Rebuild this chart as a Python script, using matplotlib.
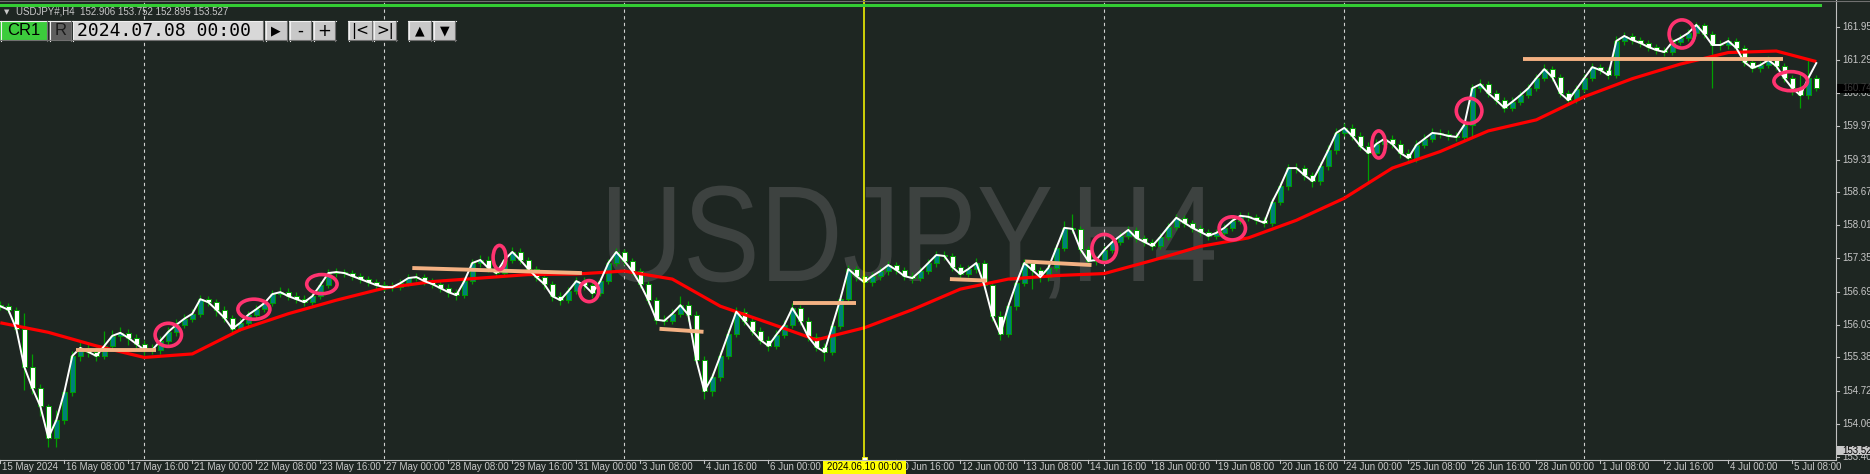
import matplotlib
matplotlib.use("Agg")
import matplotlib.pyplot as plt
from matplotlib.patches import Rectangle, Ellipse, PathPatch
from matplotlib.transforms import blended_transform_factory as btf, Affine2D
from matplotlib.textpath import TextPath
from matplotlib.font_manager import FontProperties

# ---------------- data ----------------
closes = [156.40,156.33,155.95,155.19,154.77,154.41,153.78,154.13,154.69,155.41,
155.57,155.49,155.41,155.61,155.81,155.87,155.77,155.65,155.53,155.53,
155.71,155.89,156.03,156.15,156.25,156.54,156.48,156.33,156.17,155.95,
156.07,156.23,156.34,156.46,156.64,156.68,156.60,156.54,156.48,156.60,
156.82,157.06,157.08,157.06,157.00,156.94,156.88,156.82,156.78,156.78,
156.86,156.96,156.98,156.90,156.84,156.76,156.68,156.62,156.90,157.26,
157.32,157.16,157.06,157.32,157.48,157.32,157.14,156.98,156.84,156.60,
156.52,156.70,156.90,156.82,156.66,156.90,157.26,157.48,157.30,157.10,
156.84,156.52,156.13,156.11,156.25,156.42,156.23,155.33,154.71,154.99,
155.41,155.85,156.29,156.11,155.91,155.73,155.61,155.83,156.03,156.36,
156.11,155.79,155.59,155.49,156.01,156.54,157.14,157.00,156.88,157.00,
157.10,157.22,157.12,157.00,156.96,157.10,157.26,157.42,157.40,157.18,
157.04,157.14,157.26,156.82,156.21,155.85,156.40,156.86,157.26,157.12,
156.98,157.16,157.56,157.96,157.94,157.54,157.30,157.32,157.52,157.68,
157.80,157.92,157.76,157.68,157.60,157.78,157.98,158.16,158.06,157.96,
157.88,157.80,157.86,157.96,158.10,158.20,158.18,158.12,158.06,158.48,
158.79,159.15,159.15,159.01,158.89,159.19,159.51,159.85,159.95,159.79,
159.59,159.45,159.63,159.73,159.63,159.45,159.35,159.61,159.73,159.85,
159.83,159.79,159.77,160.01,160.74,160.82,160.64,160.50,160.35,160.47,
160.60,160.74,160.94,161.12,160.96,160.64,160.50,160.72,160.94,161.16,
161.10,161.00,161.68,161.78,161.70,161.64,161.56,161.50,161.46,161.66,
161.74,161.84,162.00,161.82,161.60,161.60,161.68,161.54,161.26,161.14,
161.20,161.30,161.18,160.94,160.74,160.60,160.94,160.74]

opens = [156.42,156.40,156.33,155.95,155.19,154.77,154.41,153.78,154.13,154.69,
155.41,155.57,155.49,155.41,155.61,155.81,155.87,155.77,155.65,155.53,
155.53,155.71,155.89,156.03,156.15,156.25,156.54,156.48,156.33,156.17,
155.95,156.07,156.23,156.34,156.46,156.64,156.68,156.60,156.54,156.48,
156.60,156.82,157.06,157.08,157.06,157.00,156.94,156.88,156.82,156.78,
156.78,156.86,156.96,156.98,156.90,156.84,156.76,156.68,156.62,156.90,
157.26,157.32,157.16,157.06,157.32,157.48,157.32,157.14,156.98,156.84,
156.60,156.52,156.70,156.90,156.82,156.66,156.90,157.26,157.48,157.30,
157.10,156.84,156.52,156.13,156.11,156.25,156.42,156.23,155.33,154.71,
154.99,155.41,155.85,156.29,156.11,155.91,155.73,155.61,155.83,156.03,
156.36,156.11,155.79,155.59,155.49,156.01,156.54,157.14,157.00,156.88,
157.00,157.10,157.22,157.12,157.00,156.96,157.10,157.26,157.42,157.40,
157.18,157.04,157.14,157.26,156.82,156.21,155.85,156.40,156.86,157.26,
157.12,156.98,157.16,157.56,157.96,157.94,157.54,157.30,157.32,157.52,
157.68,157.80,157.92,157.76,157.68,157.60,157.78,157.98,158.16,158.06,
157.96,157.88,157.80,157.86,157.96,158.10,158.20,158.18,158.12,158.06,
158.48,158.79,159.15,159.15,159.01,158.89,159.19,159.51,159.85,159.95,
159.79,159.59,159.45,159.63,159.73,159.63,159.45,159.35,159.61,159.73,
159.85,159.83,159.79,159.77,160.01,160.74,160.82,160.64,160.50,160.35,
160.47,160.60,160.74,160.94,161.12,160.96,160.64,160.50,160.72,160.94,
161.16,161.10,161.00,161.68,161.78,161.70,161.64,161.56,161.50,161.46,
161.66,161.74,161.84,162.00,161.82,161.60,161.60,161.68,161.54,161.26,
161.14,161.20,161.30,161.18,160.94,160.74,160.60,160.94]

highs = [156.50,156.47,156.38,156.27,155.45,154.85,154.46,154.34,154.75,155.50,
155.68,155.66,155.58,155.90,155.92,155.98,155.95,155.84,155.72,155.64,
155.80,155.98,156.14,156.24,156.34,156.62,156.60,156.55,156.40,156.22,
156.16,156.30,156.42,156.55,156.72,156.78,156.76,156.68,156.62,156.68,
156.90,157.14,157.16,157.15,157.12,157.06,157.00,156.94,156.90,156.88,
156.94,157.04,157.06,157.04,156.96,156.92,156.84,156.74,156.98,157.34,
157.42,157.40,157.22,157.40,157.58,157.56,157.38,157.20,157.04,156.90,
156.68,156.78,156.98,156.98,156.88,156.98,157.34,157.56,157.54,157.36,
157.16,156.90,156.58,156.22,156.34,156.60,156.50,156.30,155.40,155.08,
155.50,155.94,156.38,156.36,156.18,155.98,155.80,155.92,156.12,156.46,
156.42,156.18,155.86,155.66,156.10,156.64,157.22,157.20,157.06,157.08,
157.18,157.30,157.28,157.18,157.08,157.18,157.34,157.50,157.50,157.46,
157.24,157.22,157.36,157.32,156.88,156.30,156.48,156.96,157.34,157.32,
157.18,157.24,157.64,158.10,158.24,158.00,157.60,157.40,157.60,157.76,
157.88,158.00,157.98,157.82,157.74,157.86,158.06,158.24,158.22,158.12,
158.02,157.94,157.94,158.04,158.18,158.28,158.28,158.24,158.18,158.56,
158.88,159.24,159.26,159.22,159.08,159.28,159.60,159.94,160.04,160.02,
159.86,159.66,159.72,159.82,159.80,159.70,159.52,159.70,159.82,159.94,
159.92,159.90,159.86,160.10,160.82,160.92,160.88,160.70,160.56,160.56,
160.68,160.82,161.02,161.22,161.18,161.02,160.70,160.80,161.02,161.24,
161.22,161.16,161.78,161.86,161.84,161.76,161.70,161.62,161.56,161.74,
161.82,161.92,162.06,162.04,161.88,161.70,161.76,161.74,161.60,161.32,
161.28,161.38,161.36,161.24,161.00,161.06,161.30,161.00]

lows = [156.33,156.26,155.86,154.73,154.65,154.22,153.60,153.60,154.05,154.62,
155.30,155.38,155.30,155.35,155.52,155.70,155.62,155.55,155.40,155.44,
155.45,155.62,155.80,155.96,156.08,156.18,156.40,156.20,156.08,155.86,
155.90,156.00,156.15,156.28,156.40,156.58,156.52,156.46,156.40,156.42,
156.55,156.76,156.98,156.98,156.92,156.86,156.80,156.74,156.70,156.70,
156.72,156.80,156.90,156.82,156.76,156.68,156.58,156.52,156.56,156.84,
157.18,157.08,156.98,157.00,157.26,157.24,157.06,156.90,156.74,156.50,
156.42,156.46,156.64,156.72,156.56,156.60,156.84,157.20,157.22,157.02,
156.76,156.44,156.04,156.02,156.04,156.18,156.10,155.24,154.55,154.62,
154.92,155.34,155.78,156.02,155.82,155.64,155.50,155.54,155.76,155.96,
156.02,155.70,155.50,155.30,155.42,155.94,156.46,156.90,156.78,156.80,
156.92,157.02,157.04,156.92,156.86,156.90,157.04,157.18,157.32,157.10,
156.96,156.98,157.06,156.74,156.10,155.72,155.78,156.32,156.80,156.75,
156.88,156.90,157.10,157.50,157.86,157.46,157.22,157.22,157.26,157.46,
157.62,157.74,157.68,157.60,157.52,157.54,157.72,157.92,157.98,157.88,
157.80,157.72,157.74,157.80,157.90,158.04,158.10,158.04,157.98,158.00,
158.42,158.72,159.06,158.92,158.78,158.82,159.12,159.44,159.78,159.70,
159.50,158.85,159.38,159.56,159.54,159.36,159.26,159.28,159.54,159.66,
159.74,159.70,159.68,159.70,159.76,160.66,160.56,160.42,160.26,160.28,
160.40,160.54,160.68,160.88,160.88,160.56,160.40,160.44,160.66,160.88,
161.02,160.92,160.94,161.60,161.62,161.56,161.48,161.42,161.38,161.40,
161.60,161.68,161.78,161.74,160.74,161.50,161.52,161.46,161.18,161.06,
161.06,161.14,161.10,160.86,160.60,160.35,160.52,160.68]

# white line: close values, with its last point read separately
line_last = 161.24

# moving average (red), read once per trading day + last bar
ma_bars = list(range(0, 228, 6)) + [227]
ma_vals = [156.07,155.88,155.61,155.38,155.45,155.93,156.25,156.52,156.76,156.89,
156.96,157.03,157.04,157.10,156.94,156.40,156.07,155.73,155.97,156.33,
156.74,156.94,157.01,157.05,157.31,157.59,157.76,158.11,158.55,159.15,
159.48,159.89,160.11,160.57,160.93,161.22,161.45,161.48,161.27]

# drawn horizontal levels (bar0, price0, bar1, price1)
levels = [(9.5,155.53,19.5,155.53),(51.5,157.16,72.7,157.06),(82.4,155.95,87.9,155.89),
          (99.1,156.46,107.0,156.46),(118.7,156.94,123.3,156.91),(128.1,157.29,136.4,157.22),
          (190.3,161.33,222.8,161.33)]

# drawn ellipses (bar, price, width in bars, height in price)
ellipses = [(21.0,155.83,3.3,0.46),(31.7,156.34,4.0,0.40),(40.2,156.84,3.8,0.38),
            (62.4,157.37,1.6,0.48),(73.6,156.70,2.4,0.42),(138.0,157.55,3.1,0.56),
            (154.0,157.95,3.3,0.46),(172.3,159.62,1.7,0.54),(183.6,160.29,3.2,0.50),
            (210.2,161.82,3.2,0.56),(223.8,160.88,4.2,0.38)]

time_ticks = [0,8,16,24,32,40,48,56,64,72,80,88,96,112,120,128,136,144,152,160,
              168,176,184,192,200,208,216,224]
time_labels = ["15 May 2024","16 May 08:00","17 May 16:00","21 May 00:00","22 May 08:00",
               "23 May 16:00","27 May 00:00","28 May 08:00","29 May 16:00","31 May 00:00",
               "3 Jun 08:00","4 Jun 16:00","6 Jun 00:00","10 Jun 16:00","12 Jun 00:00",
               "13 Jun 08:00","14 Jun 16:00","18 Jun 00:00","19 Jun 08:00","20 Jun 16:00",
               "24 Jun 00:00","25 Jun 08:00","26 Jun 16:00","28 Jun 00:00","1 Jul 08:00",
               "2 Jul 16:00","4 Jul 00:00","5 Jul 08:00"]
week_bars = [18, 48, 78, 138, 168, 198]
cursor_bar = 108
cursor_label = "2024.06.10 00:00"

price_ticks = [161.958,161.298,160.638,159.978,159.318,158.671,158.011,157.351,
               156.691,156.031,155.381,154.721,154.061,153.401]
bid_price, bid_label = 160.74, "160.74"
last_price, last_label = 153.527, "153.527"
watermark = "USDJPY,H4"

# ---------------- style ----------------
W, H = 1870, 474
BG = "#1e2622"
GREEN = "#00a000"
TEAL = "#00807a"
TXT = "#c8c8c8"
FONT = "Liberation Sans"

fig = plt.figure(figsize=(W/100, H/100), dpi=100)
fig.patch.set_facecolor(BG)

def fx(x): return x / W
def fy(y): return 1 - y / H

ax = fig.add_axes([0, fy(459), fx(1835), 459/H])
ax.set_facecolor(BG)
ax.set_xlim(-0.0375, 229.3375)
ax.set_ylim(153.358, 162.496)
ax.axis("off")

n = len(closes)
idx = list(range(n))

# watermark: text outline fitted to its box (pixels: x 609-1214, cap top 187, baseline 281)
fp = FontProperties(family=FONT)
tp = TextPath((0, 0), watermark, size=100, prop=fp)
ext = tp.get_extents()
cap = TextPath((0, 0), "H", size=100, prop=fp).get_extents().y1
sx = (1214 - 609) / (ext.x1 - ext.x0)
sy = (281 - 187) / cap
wm_tr = Affine2D().translate(-ext.x0, 0).scale(sx, sy).translate(609, H - 281)
ax.add_patch(PathPatch(tp, transform=wm_tr, facecolor="#3d4240", edgecolor="none",
                       zorder=0.5, clip_on=False))

# grid
for b in week_bars:
    ax.axvline(b, color="#cfcfcf", lw=0.8, ls=(0, (3, 3)), zorder=1)

# candles
ax.vlines(idx, lows, highs, color=GREEN, lw=0.9, zorder=2)
for i in idx:
    o, c = opens[i], closes[i]
    bot = min(o, c)
    hgt = max(abs(c - o), 0.005)
    fc = TEAL if c >= o else "white"
    ax.add_patch(Rectangle((i - 0.3, bot), 0.6, hgt, facecolor=fc, edgecolor=GREEN,
                           lw=0.7, zorder=3))

# MA and close line
ax.plot(ma_bars, ma_vals, color="#ff0000", lw=2.3, zorder=4, solid_capstyle="butt")
ax.plot(idx, closes[:-1] + [line_last], color="white", lw=1.4, zorder=5)

# drawn objects
for b0, p0, b1, p1 in levels:
    ax.plot([b0, b1], [p0, p1], color="#f4b183", lw=2.8, solid_capstyle="butt", zorder=6)
for b, p, w, h in ellipses:
    ax.add_patch(Ellipse((b, p), w, h, fill=False, edgecolor="#ff3370", lw=2.6, zorder=7))

ax.axvline(cursor_bar, color="#ffff00", lw=1.1, zorder=8)

# axes frame lines
fig.add_artist(plt.Line2D([fx(1835.5)]*2, [fy(0), fy(459.5)], color="#c0c0c0", lw=0.8))
fig.add_artist(plt.Line2D([0, fx(1835.5)], [fy(459.5)]*2, color="#c0c0c0", lw=0.8))

# price labels
tr_p = btf(fig.transFigure, ax.transData)
for p in price_ticks:
    ax.plot([fx(1836), fx(1839)], [p, p], color="#c0c0c0", lw=0.8, transform=tr_p, clip_on=False)
    ax.text(fx(1842), p, f"{p:.3f}", color=TXT, fontsize=7, family=FONT, ha="left",
            va="center", transform=tr_p, clip_on=False)
ax.add_patch(Rectangle((fx(1836), bid_price - 0.09), fx(40), 0.18, facecolor="black",
                       edgecolor="none", transform=tr_p, clip_on=False, zorder=9))
ax.text(fx(1842), bid_price, bid_label, color="#3a3a3a", fontsize=7, family=FONT,
        ha="left", va="center", transform=tr_p, clip_on=False, zorder=10)
ax.add_patch(Rectangle((fx(1836), last_price - 0.085), fx(40), 0.17, facecolor="#c8c8c8",
                       edgecolor="none", transform=tr_p, clip_on=False, zorder=9))
ax.text(fx(1842), last_price, last_label, color="black", fontsize=7, family=FONT,
        ha="left", va="center", transform=tr_p, clip_on=False, zorder=10)

# time labels
tr_t = btf(ax.transData, fig.transFigure)
for b, lab in zip(time_ticks, time_labels):
    ax.plot([b, b], [fy(459.5), fy(463)], color="#c0c0c0", lw=0.8, transform=tr_t, clip_on=False)
    ax.text(b + 0.25, fy(467.5), lab, color=TXT, fontsize=7, family=FONT, ha="left",
            va="center", transform=tr_t, clip_on=False)
ax.add_patch(Rectangle((cursor_bar - 5.2, fy(474)), 10.4, 13.5/H, facecolor="#ffff00",
                       edgecolor="none", transform=tr_t, clip_on=False, zorder=9))
ax.text(cursor_bar, fy(467.5), cursor_label, color="black", fontsize=7, family=FONT,
        ha="center", va="center", transform=tr_t, clip_on=False, zorder=10)
ax.add_patch(Rectangle((cursor_bar - 0.35, fy(460.5)), 0.7, 4/H, facecolor="white",
                       edgecolor="#ffff00", lw=0.6, transform=tr_t, clip_on=False, zorder=10))

# ---------------- top toolbar ----------------
fig.add_artist(plt.Line2D([0, fx(1820)], [fy(5), fy(5)], color="#33cc33", lw=2.2))
fig.add_artist(plt.Line2D([0, 1], [fy(0.5), fy(0.5)], color="#707070", lw=0.8))
fig.text(fx(4), fy(12), "\u25bc", color=TXT, fontsize=5, family="DejaVu Sans", va="center")
fig.text(fx(16), fy(12), "USDJPY#,H4  152.906 153.752 152.895 153.527", color=TXT,
         fontsize=7, family=FONT, va="center")

def button(x0, x1, face, label, tc="black", fs=11, fam="DejaVu Sans", ha="center", tx=None):
    y0, y1 = 20.7, 40.7
    fig.add_artist(Rectangle((fx(x0), fy(y1)), fx(x1 - x0), (y1 - y0)/H, facecolor=face,
                             edgecolor="none", transform=fig.transFigure))
    fig.add_artist(plt.Line2D([fx(x0), fx(x1)], [fy(y0 + 0.5)]*2, color="#f0f0f0", lw=0.8))
    fig.add_artist(plt.Line2D([fx(x0 + 0.5)]*2, [fy(y0), fy(y1)], color="#f0f0f0", lw=0.8))
    fig.add_artist(plt.Line2D([fx(x0), fx(x1)], [fy(y1 - 0.5)]*2, color="#707070", lw=0.8))
    fig.add_artist(plt.Line2D([fx(x1 - 0.5)]*2, [fy(y0), fy(y1)], color="#707070", lw=0.8))
    xx = (x0 + x1) / 2 if tx is None else tx
    fig.text(fx(xx), fy((y0 + y1) / 2), label, color=tc, fontsize=fs, family=fam,
             ha=ha, va="center")

button(0, 47.7, "#3ccc3c", "CR1", fs=12, fam=FONT)
button(49, 71.5, "#5e5e5e", "R", tc="#1a1a1a", fs=12, fam=FONT)
button(72.7, 263.3, "#d8d8d8", "2024.07.08 00:00", fs=13, fam="DejaVu Sans Mono", ha="left", tx=77)
button(265, 287.3, "#c8c8c8", "\u25b6", fs=9)
button(289, 311.7, "#c8c8c8", "-", fs=12)
button(313.3, 335.7, "#c8c8c8", "+", fs=12)
button(348.3, 372.3, "#c8c8c8", "|<", fs=11)
button(373.3, 396.7, "#c8c8c8", ">|", fs=11)
button(408.3, 431.7, "#c8c8c8", "\u25b2", fs=9)
button(433.3, 455.7, "#c8c8c8", "\u25bc", fs=9)

fig.savefig("out.png", dpi=100, facecolor=BG)
